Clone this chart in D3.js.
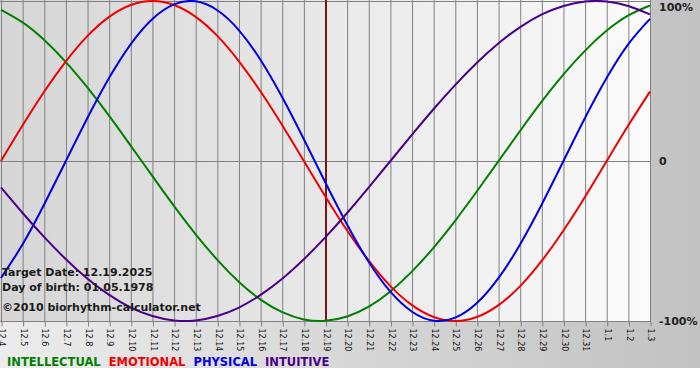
<!DOCTYPE html>
<html>
<head>
<meta charset="utf-8">
<script src="https://cdn.jsdelivr.net/npm/d3@7"></script>
<style>
  body { margin: 0; background: #fff; }
  svg { display: block; font-family: "DejaVu Sans", Verdana, sans-serif; }
</style>
</head>
<body>
<svg id="chart" width="700" height="380"></svg>
<script>
const days = ["12.4", "12.5", "12.6", "12.7", "12.8", "12.9", "12.10", "12.11", "12.12", "12.13",
  "12.14", "12.15", "12.16", "12.17", "12.18", "12.19", "12.20", "12.21", "12.22", "12.23",
  "12.24", "12.25", "12.26", "12.27", "12.28", "12.29", "12.30", "12.31", "1.1", "1.2", "1.3"];

// values, -1 .. 1
const intellectual = [0.945, 0.866, 0.756, 0.618, 0.458, 0.282, 0.095, -0.095, -0.282, -0.458,
  -0.618, -0.756, -0.866, -0.945, -0.990, -0.999, -0.972, -0.910, -0.815, -0.690,
  -0.541, -0.372, -0.189, 0, 0.189, 0.372, 0.541, 0.690, 0.815, 0.910, 0.972];
const emotional = [0, 0.223, 0.434, 0.623, 0.782, 0.901, 0.975, 1, 0.975, 0.901,
  0.782, 0.623, 0.434, 0.223, 0, -0.223, -0.434, -0.623, -0.782, -0.901,
  -0.975, -1, -0.975, -0.901, -0.782, -0.623, -0.434, -0.223, 0, 0.223, 0.434];
const physical = [-0.731, -0.520, -0.270, 0, 0.270, 0.520, 0.731, 0.888, 0.979, 0.998,
  0.942, 0.817, 0.631, 0.398, 0.136, -0.136, -0.398, -0.631, -0.817, -0.942,
  -0.998, -0.979, -0.888, -0.731, -0.520, -0.270, 0, 0.270, 0.520, 0.731, 0.888];
const intuitive = [-0.165, -0.325, -0.476, -0.614, -0.736, -0.837, -0.916, -0.969, -0.997, -0.997,
  -0.969, -0.916, -0.837, -0.736, -0.614, -0.476, -0.325, -0.165, 0, 0.165,
  0.325, 0.476, 0.614, 0.736, 0.837, 0.916, 0.969, 0.997, 0.997, 0.969, 0.916];

const seriesNames = ["INTELLECTUAL", "EMOTIONAL", "PHYSICAL", "INTUITIVE"];
const seriesColors = ["#008000", "#f00000", "#0000e6", "#4b0087"];
const seriesValues = [intellectual, emotional, physical, intuitive];

const yTicks = [1, 0, -1];
const yTickLabels = ["100%", "0", "-100%"];
const targetDay = "12.19";
const infoLines = ["Target Date: 12.19.2025", "Day of birth: 01.05.1978", "\u00a92010 biorhythm-calculator.net"];

const svg = d3.select("#chart");
const plot = { left: 1, right: 650, top: 1, bottom: 321 };

const x = d3.scalePoint().domain(days).range([plot.left, plot.right]);
const y = d3.scaleLinear().domain([-1, 1]).range([plot.bottom, plot.top]);

// backgrounds
const defs = svg.append("defs");
const outerGrad = defs.append("linearGradient").attr("id", "outerGrad");
outerGrad.append("stop").attr("offset", "0%").attr("stop-color", "#ececec");
outerGrad.append("stop").attr("offset", "100%").attr("stop-color", "#c2c2c2");
const plotGrad = defs.append("linearGradient").attr("id", "plotGrad");
plotGrad.append("stop").attr("offset", "0%").attr("stop-color", "#d6d6d6");
plotGrad.append("stop").attr("offset", "100%").attr("stop-color", "#fbfbfb");

svg.append("rect").attr("width", 700).attr("height", 368).attr("fill", "url(#outerGrad)");
svg.append("rect")
  .attr("x", 0).attr("y", 0)
  .attr("width", plot.right).attr("height", plot.bottom)
  .attr("fill", "url(#plotGrad)");

// vertical grid
svg.append("g").selectAll("line")
  .data(days)
  .enter().append("line")
  .attr("x1", d => x(d) + 0.5).attr("x2", d => x(d) + 0.5)
  .attr("y1", 0).attr("y2", plot.bottom)
  .attr("stroke", "#808080");

// horizontal grid
svg.append("g").selectAll("line")
  .data(yTicks)
  .enter().append("line")
  .attr("x1", 0).attr("x2", plot.right + 1)
  .attr("y1", d => Math.round(y(d)) + 0.5).attr("y2", d => Math.round(y(d)) + 0.5)
  .attr("stroke", "#808080");

// x axis, labels rotated
const xAxis = svg.append("g")
  .attr("transform", `translate(0.5,${plot.bottom + 0.5})`)
  .call(d3.axisBottom(x).tickSize(5).tickPadding(0));
xAxis.select(".domain").remove();
xAxis.selectAll("line").attr("stroke", "#808080");
xAxis.selectAll("text")
  .attr("transform", "rotate(90)")
  .attr("x", 7).attr("y", 0)
  .attr("dy", "0.35em")
  .style("text-anchor", "start")
  .style("font-family", "DejaVu Sans, Verdana, sans-serif")
  .style("font-size", "8px")
  .attr("fill", "#111");

// right axis
const yAxis = svg.append("g")
  .attr("transform", `translate(${plot.right},0)`)
  .call(d3.axisRight(y).tickValues(yTicks).tickSize(0).tickPadding(9)
    .tickFormat((d, i) => yTickLabels[i]));
yAxis.select(".domain").remove();
yAxis.selectAll("text")
  .style("font-family", "DejaVu Sans, Verdana, sans-serif")
  .style("font-size", "11px")
  .style("font-weight", "bold")
  .attr("fill", "#222")
  .attr("y", d => d === 1 ? 6 : 0);

// target date marker
svg.append("line")
  .attr("x1", x(targetDay) + 0.5).attr("x2", x(targetDay) + 0.5)
  .attr("y1", 0).attr("y2", plot.bottom)
  .attr("stroke", "#7a1414")
  .attr("stroke-width", 2);

// curves
const line = d3.line()
  .x((d, i) => x(days[i]))
  .y(d => y(d))
  .curve(d3.curveNatural);

svg.append("g").selectAll("path")
  .data(seriesValues)
  .enter().append("path")
  .attr("d", d => line(d))
  .attr("fill", "none")
  .attr("stroke", (d, i) => seriesColors[i])
  .attr("stroke-width", 2);

// info text
svg.append("g").selectAll("text")
  .data(infoLines)
  .enter().append("text")
  .attr("x", 2)
  .attr("y", (d, i) => [276, 291, 311][i])
  .style("font-size", "11px")
  .style("font-weight", "bold")
  .attr("fill", "#1a1a1a")
  .text(d => d);

// legend
const legend = svg.append("g");
let lx = 7;
seriesNames.forEach((name, i) => {
  const t = legend.append("text")
    .attr("x", lx).attr("y", 366)
    .style("font-size", "11.5px")
    .style("font-weight", "bold")
    .attr("fill", seriesColors[i])
    .text(name);
  lx += t.node().getComputedTextLength() + 8;
});
</script>
</body>
</html>
